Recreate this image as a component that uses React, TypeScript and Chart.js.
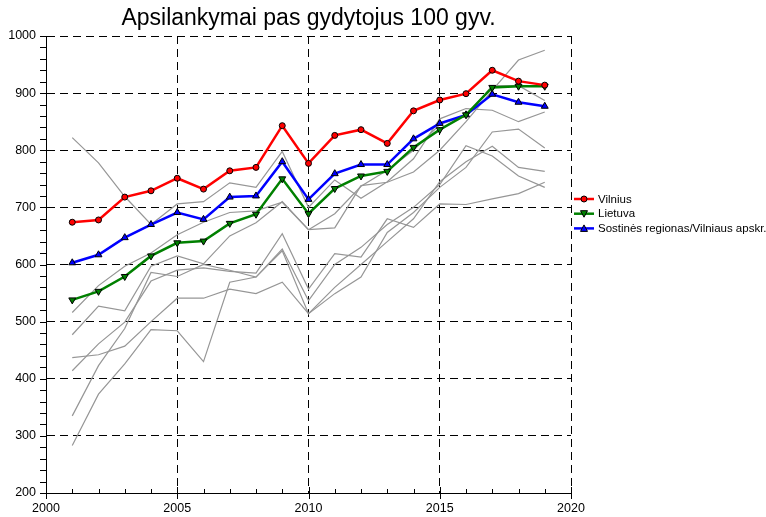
import React, { useEffect, useRef } from "react";
import { Chart, registerables } from "chart.js";

Chart.register(...registerables);

const titleText = "Apsilankymai pas gydytojus 100 gyv.";
const years = [2001, 2002, 2003, 2004, 2005, 2006, 2007, 2008, 2009, 2010, 2011, 2012, 2013, 2014, 2015, 2016, 2017, 2018, 2019];

const vilnius = [674, 678, 718, 729, 751, 732, 764, 770, 843, 777, 826, 836, 812, 869, 888, 899, 940, 921, 914];
const lietuva = [538, 553, 579, 615, 638, 641, 672, 688, 750, 689, 733, 755, 763, 805, 836, 862, 910, 912, 912];
const sostine = [603, 617, 647, 670, 691, 679, 718, 720, 780, 714, 759, 775, 775, 820, 847, 862, 898, 884, 877];

const other1 = [822, 778, 719, 670, 706, 710, 743, 735, 798, 700, 748, 716, 745, 785, 855, 873, 870, 850, 867];
const other2 = [516, 563, 597, 620, 652, 674, 691, 694, 709, 661, 689, 737, 765, 800, 845, 860, 913, 913, 887];
const other3 = [477, 527, 519, 597, 615, 601, 650, 673, 710, 661, 664, 738, 744, 762, 800, 850, 905, 958, 975];
const other4 = [437, 442, 457, 500, 541, 541, 557, 549, 569, 514, 549, 578, 656, 691, 735, 770, 832, 837, 804];
const other5 = [414, 461, 499, 571, 590, 594, 588, 585, 654, 557, 619, 613, 680, 665, 706, 705, 715, 724, 744];
const other6 = [335, 423, 488, 586, 579, 600, 590, 578, 627, 537, 600, 630, 670, 700, 740, 808, 790, 755, 735];
const other7 = [283, 373, 426, 486, 484, 430, 569, 578, 624, 514, 560, 600, 640, 680, 745, 780, 807, 770, 763];

const otherSeries = [other1, other2, other3, other4, other5, other6, other7];

const seriesLabels = ["Vilnius", "Lietuva", "Sostinės regionas/Vilniaus apskr."];
const seriesColors = ["#ff0000", "#008000", "#0000ff"];

const xMin = 2000;
const xMax = 2020;
const yMin = 200;
const yMax = 1000;

const FONT = '"Liberation Sans", Arial, Helvetica, sans-serif';

const toPts = (vals: number[]) => vals.map((v, i) => ({ x: years[i], y: v }));

function drawMarker(ctx: CanvasRenderingContext2D, kind: number, x: number, y: number, color: string) {
  ctx.save();
  ctx.fillStyle = color;
  ctx.strokeStyle = "#000";
  ctx.lineWidth = 1;
  ctx.beginPath();
  if (kind === 0) {
    ctx.arc(x, y, 3, 0, Math.PI * 2);
  } else if (kind === 1) {
    ctx.moveTo(x - 3.5, y - 3);
    ctx.lineTo(x + 3.5, y - 3);
    ctx.lineTo(x, y + 3.5);
    ctx.closePath();
  } else {
    ctx.moveTo(x - 3.5, y + 3);
    ctx.lineTo(x + 3.5, y + 3);
    ctx.lineTo(x, y - 3.5);
    ctx.closePath();
  }
  ctx.fill();
  ctx.stroke();
  ctx.restore();
}

const decor = {
  id: "decor",
  afterDraw(chart: any) {
    const { ctx, chartArea: ca, scales } = chart;
    const x = scales.x;
    const y = scales.y;
    ctx.save();
    ctx.strokeStyle = "#000";
    ctx.lineWidth = 1;
    ctx.setLineDash([]);
    ctx.beginPath();
    for (let v = yMin; v <= yMax; v += 20) {
      const py = Math.round(y.getPixelForValue(v)) + 0.5;
      ctx.moveTo(ca.left - 6, py);
      ctx.lineTo(ca.left, py);
    }
    for (let yr = xMin; yr <= xMax; yr++) {
      const px = Math.round(x.getPixelForValue(yr)) + 0.5;
      const major = yr % 5 === 0;
      ctx.moveTo(px, ca.bottom + (major ? 6 : 0));
      ctx.lineTo(px, ca.bottom - (major ? 6 : 4));
    }
    ctx.stroke();

    ctx.fillStyle = "#000";
    ctx.font = "23px " + FONT;
    ctx.textAlign = "center";
    ctx.textBaseline = "middle";
    ctx.fillText(titleText, (ca.left + ca.right) / 2, 19);

    ctx.font = "11.5px " + FONT;
    ctx.textAlign = "left";
    for (let i = 0; i < seriesLabels.length; i++) {
      const ly = 199 + i * 14.7;
      ctx.save();
      ctx.strokeStyle = seriesColors[i];
      ctx.lineWidth = 2.5;
      ctx.beginPath();
      ctx.moveTo(ca.right + 3, ly);
      ctx.lineTo(ca.right + 23, ly);
      ctx.stroke();
      ctx.restore();
      drawMarker(ctx, i, ca.right + 13, ly, seriesColors[i]);
      ctx.fillStyle = "#000";
      ctx.fillText(seriesLabels[i], ca.right + 27, ly + 0.5);
    }
    ctx.restore();
  },
};

export default function App() {
  const ref = useRef<HTMLCanvasElement | null>(null);
  useEffect(() => {
    if (!ref.current) return;
    const main = [vilnius, lietuva, sostine].map((vals, i) => ({
      label: seriesLabels[i],
      data: toPts(vals),
      borderColor: seriesColors[i],
      backgroundColor: seriesColors[i],
      borderWidth: 2.5,
      pointRadius: i === 0 ? 3 : 4,
      pointStyle: i === 0 ? "circle" : "triangle",
      rotation: i === 1 ? 180 : 0,
      pointBackgroundColor: seriesColors[i],
      pointBorderColor: "#000",
      pointBorderWidth: 1,
      tension: 0,
    }));
    const others = otherSeries.map((vals, i) => ({
      label: "other" + (i + 1),
      data: toPts(vals),
      borderColor: "rgb(150,150,150)",
      borderWidth: 1.2,
      pointRadius: 0,
      tension: 0,
    }));
    const chart = new Chart(ref.current, {
      type: "line",
      data: { datasets: [...main, ...others] as any },
      options: {
        animation: false,
        responsive: false,
        events: [],
        layout: { padding: { left: 0, right: 195, top: 36, bottom: 0 }, autoPadding: false },
        plugins: { legend: { display: false }, title: { display: false }, tooltip: { enabled: false } },
        scales: {
          x: {
            type: "linear",
            min: xMin,
            max: xMax,
            afterFit: (s: any) => { s.height = 24; },
            ticks: { stepSize: 5, padding: 8, color: "#000", font: { size: 12.5, family: FONT }, callback: (v: any) => String(v) },
            grid: { color: "#000", lineWidth: 1, drawTicks: false },
            border: { display: true, color: "#000", width: 1, dash: [8, 5] },
          },
          y: {
            type: "linear",
            min: yMin,
            max: yMax,
            afterFit: (s: any) => { s.width = 46; },
            ticks: { stepSize: 100, padding: 10, color: "#000", font: { size: 12.5, family: FONT }, callback: (v: any) => String(v) },
            grid: { color: "#000", lineWidth: 1, drawTicks: false },
            border: { display: true, color: "#000", width: 1, dash: [8, 5] },
          },
        },
      } as any,
      plugins: [decor],
    });
    return () => chart.destroy();
  }, []);
  return (
    <div style={{ position: "absolute", left: 0, top: 0, width: 766, height: 517, background: "#fff" }}>
      <canvas ref={ref} width={766} height={517} style={{ display: "block" }} />
    </div>
  );
}
